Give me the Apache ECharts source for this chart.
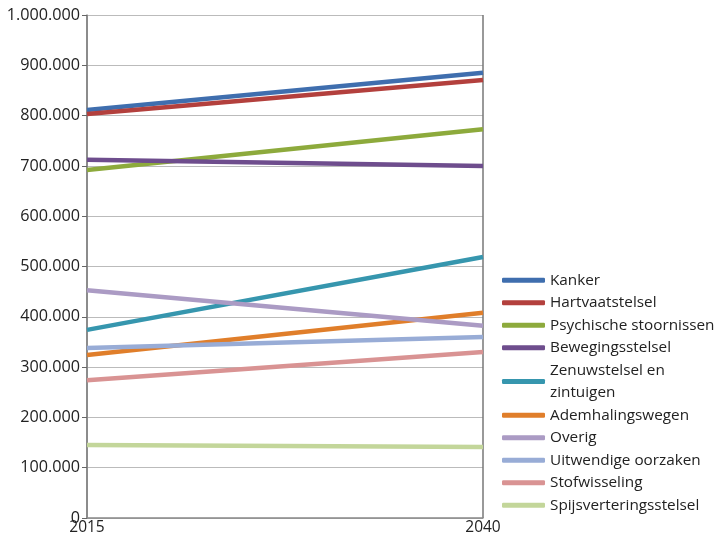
<!DOCTYPE html>
<html><head><meta charset="utf-8">
<script src="https://cdn.jsdelivr.net/npm/echarts@6/dist/echarts.min.js"></script>
<style>html,body{margin:0;padding:0;background:#fff}#c{width:720px;height:543px}</style>
</head><body><div id="c"></div>
<script>
const years = ['2015', '2040'];
const seriesNames = ['Kanker','Hartvaatstelsel','Psychische stoornissen','Bewegingsstelsel','Zenuwstelsel en zintuigen','Ademhalingswegen','Overig','Uitwendige oorzaken','Stofwisseling','Spijsverteringsstelsel'];
const kanker = [811000, 885000];
const hartvaat = [803000, 871000];
const psychisch = [692000, 773000];
const beweging = [712000, 700000];
const zenuw = [374000, 519000];
const adem = [324000, 408000];
const overig = [453000, 382000];
const uitwendig = [338000, 360000];
const stofwisseling = [274000, 330000];
const spijsvertering = [145000, 141000];
const colors = ['#3F6EAE','#B3403D','#8DAA3C','#6E4D8D','#3696AE','#E07E2A','#AB9BC4','#98ACD6','#D99393','#C3D69A'];
const values = [kanker,hartvaat,psychisch,beweging,zenuw,adem,overig,uitwendig,stofwisseling,spijsvertering];
const FONT = '"Open Sans", sans-serif';
const chart = echarts.init(document.getElementById('c'));
chart.setOption({
  animation: false,
  color: colors,
  grid: {left: 87, right: 237, top: 15, bottom: 25, containLabel: false},
  legend: {
    orient: 'vertical', left: 497, top: 264,
    icon: 'roundRect', itemWidth: 43, itemHeight: 5, itemGap: 0, itemTextGap: 6,
    textStyle: {fontFamily: FONT, fontSize: 15.3, color: '#222', lineHeight: 22.5},
    formatter: n => n === 'Zenuwstelsel en zintuigen' ? 'Zenuwstelsel en\nzintuigen' : n,
    data: seriesNames
  },
  xAxis: {
    type: 'category', data: years, boundaryGap: false,
    axisLine: {lineStyle: {color: '#888', width: 1.5}},
    axisTick: {show: false},
    splitLine: {show: true, lineStyle: {color: '#777', width: 1.5}},
    axisLabel: {fontFamily: FONT, fontSize: 15.5, color: '#222', margin: 2}
  },
  yAxis: {
    type: 'value', min: 0, max: 1000000, interval: 100000,
    axisLine: {show: true, lineStyle: {color: '#888', width: 1.5}},
    axisTick: {show: true, inside: false, length: 5, lineStyle: {color: '#666'}},
    splitLine: {lineStyle: {color: '#bbb', width: 1.2}},
    axisLabel: {fontFamily: FONT, fontSize: 16.2, color: '#222', margin: 7,
      formatter: v => String(v).replace(/\B(?=(\d{3})+(?!\d))/g, '.')}
  },
  series: seriesNames.map((n, i) => ({
    name: n, type: 'line', data: values[i], symbol: 'none',
    lineStyle: {width: 4.5, color: colors[i]}, itemStyle: {color: colors[i]}
  }))
});
</script></body></html>
